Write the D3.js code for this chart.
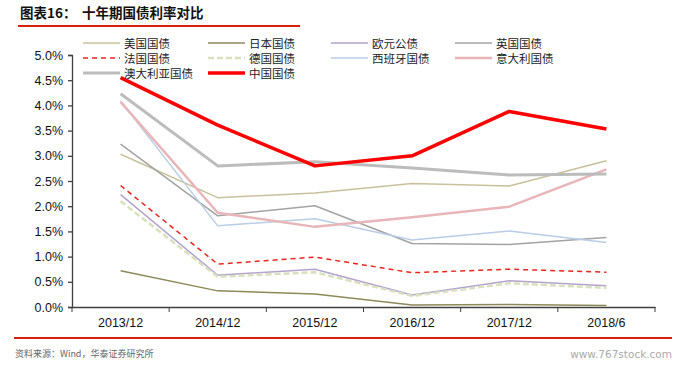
<!DOCTYPE html>
<html>
<head>
<meta charset="utf-8">
<script src="https://cdn.jsdelivr.net/npm/d3@7"></script>
<style>
body { margin: 0; background: #fff; }
svg { display: block; }
</style>
</head>
<body>
<div id="chart"></div>
<script>
var width = 684,
    height = 368;

var categories = ["2013/12", "2014/12", "2015/12", "2016/12", "2017/12", "2018/6"];
var yTicks = [0, 0.5, 1, 1.5, 2, 2.5, 3, 3.5, 4, 4.5, 5];

var us = [3.03, 2.17, 2.26, 2.45, 2.40, 2.90];
var japan = [0.72, 0.32, 0.26, 0.04, 0.05, 0.03];
var euro = [2.23, 0.63, 0.75, 0.24, 0.52, 0.42];
var uk = [3.23, 1.81, 2.01, 1.26, 1.24, 1.38];
var france = [2.41, 0.85, 0.99, 0.68, 0.75, 0.69];
var germany = [2.10, 0.60, 0.69, 0.22, 0.47, 0.38];
var spain = [4.09, 1.61, 1.75, 1.33, 1.51, 1.28];
var italy = [4.07, 1.87, 1.59, 1.78, 1.99, 2.73];
var australia = [4.23, 2.80, 2.88, 2.76, 2.62, 2.64];
var china = [4.55, 3.61, 2.80, 3.00, 3.88, 3.53];

// legend order == draw order
var series = [
  {name: "美国国债", values: us, color: "#c9c09c", w: 1.5},
  {name: "日本国债", values: japan, color: "#8e8958", w: 1.5},
  {name: "欧元公债", values: euro, color: "#b4a3cd", w: 1.5},
  {name: "英国国债", values: uk, color: "#a3a3a3", w: 1.5},
  {name: "法国国债", values: france, color: "#e8261d", w: 1.5, dash: "5,4"},
  {name: "德国国债", values: germany, color: "#d8e1bd", w: 2.5, dash: "6,3"},
  {name: "西班牙国债", values: spain, color: "#b9cde6", w: 1.5},
  {name: "意大利国债", values: italy, color: "#e8b5b9", w: 2.5},
  {name: "澳大利亚国债", values: australia, color: "#bcbcbc", w: 3},
  {name: "中国国债", values: china, color: "#ff0000", w: 3.5}
];

var svg = d3.select("#chart").append("svg")
    .attr("width", width)
    .attr("height", height);

// title
var title = svg.append("text")
    .attr("y", 18)
    .attr("font-family", "'Noto Sans CJK SC', sans-serif")
    .attr("font-size", 13.5)
    .attr("font-weight", "bold")
    .attr("fill", "#111");
title.append("tspan").attr("x", 20).text("图表16：");
title.append("tspan").attr("x", 82).text("十年期国债利率对比");

svg.append("line")
    .attr("x1", 18).attr("x2", 300)
    .attr("y1", 26).attr("y2", 26)
    .attr("stroke", "#d9200f").attr("stroke-width", 2);

// plot area
var x0 = 72, x1 = 655, yTop = 55, yBottom = 307;

var x = d3.scaleBand()
    .domain(categories)
    .range([x0, x1]);

var y = d3.scaleLinear()
    .domain([0, 5])
    .range([yBottom, yTop]);

var yAxis = svg.append("g")
    .attr("transform", "translate(" + x0 + ",0)")
    .call(d3.axisLeft(y).tickValues(yTicks).tickSize(4).tickFormat(function(d) { return d.toFixed(1) + "%"; }));

yAxis.selectAll("text")
    .attr("font-family", "Arial, 'Liberation Sans', sans-serif")
    .attr("font-size", 12.5)
    .attr("fill", "#111")
    .attr("dx", -2);

var xAxis = svg.append("g")
    .attr("transform", "translate(0," + yBottom + ")")
    .call(d3.axisBottom(x).tickSize(0).tickPadding(11));

xAxis.selectAll("text")
    .attr("font-family", "Arial, 'Liberation Sans', sans-serif")
    .attr("font-size", 12.5)
    .attr("fill", "#111");

// band boundary ticks on x axis
xAxis.selectAll(".bound")
    .data(categories.concat(["end"]))
    .enter().append("line")
    .attr("class", "bound")
    .attr("x1", function(d, i) { return x0 + i * x.step(); })
    .attr("x2", function(d, i) { return x0 + i * x.step(); })
    .attr("y1", 0).attr("y2", 5)
    .attr("stroke", "#404040");

svg.selectAll(".domain, .tick line").attr("stroke", "#404040").attr("stroke-width", 1.3);

var line = d3.line()
    .x(function(d, i) { return x(categories[i]) + x.bandwidth() / 2; })
    .y(function(d) { return y(d); });

svg.append("g")
    .selectAll("path")
    .data(series)
    .enter().append("path")
    .attr("d", function(d) { return line(d.values); })
    .attr("fill", "none")
    .attr("stroke", function(d) { return d.color; })
    .attr("stroke-width", function(d) { return d.w; })
    .attr("stroke-dasharray", function(d) { return d.dash || null; })
    .attr("stroke-linejoin", "round");

// legend
var colX = [83, 208, 331, 455];
var rowY = [43, 58, 73];

var legend = svg.append("g")
    .selectAll("g")
    .data(series)
    .enter().append("g")
    .attr("transform", function(d, i) {
      return "translate(" + colX[i % 4] + "," + rowY[Math.floor(i / 4)] + ")";
    });

legend.append("line")
    .attr("x1", 0).attr("x2", 37)
    .attr("y1", 0).attr("y2", 0)
    .attr("stroke", function(d) { return d.color; })
    .attr("stroke-width", function(d) { return d.w; })
    .attr("stroke-dasharray", function(d) { return d.dash || null; });

legend.append("text")
    .attr("x", 41)
    .attr("y", 4.5)
    .attr("font-family", "'Noto Sans CJK SC', sans-serif")
    .attr("font-size", 11.5)
    .attr("fill", "#222")
    .text(function(d) { return d.name; });

// footer
svg.append("line")
    .attr("x1", 14).attr("x2", 672)
    .attr("y1", 338).attr("y2", 338)
    .attr("stroke", "#d9200f").attr("stroke-width", 2);

svg.append("text")
    .attr("x", 15)
    .attr("y", 357)
    .attr("font-family", "'Noto Sans CJK SC', sans-serif")
    .attr("font-size", 9)
    .attr("fill", "#666")
    .text("资料来源：Wind，华泰证券研究所");

svg.append("text")
    .attr("x", 672)
    .attr("y", 358)
    .attr("text-anchor", "end")
    .attr("font-family", "'DejaVu Sans', sans-serif")
    .attr("font-size", 10.5)
    .attr("fill", "#aaa")
    .text("www.767stock.com");
</script>
</body>
</html>
